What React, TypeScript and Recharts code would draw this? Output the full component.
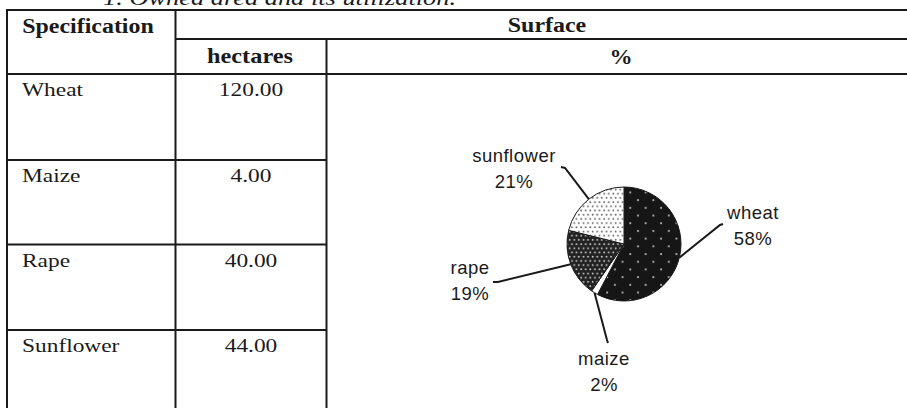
import React from "react";
import { Cell, Pie, PieChart } from "recharts";

// table content
const title = "1. Owned area and its utilization.";
const categories = ["Wheat", "Maize", "Rape", "Sunflower"];
const hectares = [120, 4, 40, 44];
const headSpec = "Specification";
const headSurface = "Surface";
const headHa = "hectares";
const headPct = "%";

const patternIds = ["pWheat", "pMaize", "pRape", "pSunflower"];

// hand placed leader lines / label text, offsets from pie centre
const labelLayout: Record<string, { elbow: number[]; hook: number[]; text: number[] }> = {
  Wheat: { elbow: [96, -19], hook: [99, -20], text: [129, -25] },
  Maize: { elbow: [-17, 96], hook: [-16, 99], text: [-20, 121] },
  Rape: { elbow: [-126, 38], hook: [-131, 38], text: [-154, 30] },
  Sunflower: { elbow: [-59, -76], hook: [-63, -77], text: [-110, -82] },
};

const INK = "#1a1a1a";
const SERIF = "'Liberation Serif', 'Times New Roman', serif";
const SANS = "'Liberation Sans', Arial, sans-serif";

const rowTops = [74, 160, 244.5, 330];

function renderLabel(props: any) {
  const { cx, cy, midAngle, outerRadius, percent, name } = props;
  const lay = labelLayout[name];
  if (!lay) return null;
  const rad = Math.PI / 180;
  const sx = cx + outerRadius * Math.cos(-midAngle * rad);
  const sy = cy + outerRadius * Math.sin(-midAngle * rad);
  const pts = [
    [sx, sy],
    [cx + lay.elbow[0], cy + lay.elbow[1]],
    [cx + lay.hook[0], cy + lay.hook[1]],
  ]
    .map((p) => p.join(","))
    .join(" ");
  const tx = cx + lay.text[0];
  const ty = cy + lay.text[1];
  return (
    <g>
      <polyline points={pts} fill="none" stroke={INK} strokeWidth={2} />
      <text
        x={tx}
        y={ty}
        textAnchor="middle"
        fontFamily={SANS}
        fontSize={18.5}
        letterSpacing={0.5}
        fill={INK}
      >
        <tspan x={tx} dy={0}>{String(name).toLowerCase()}</tspan>
        <tspan x={tx} dy={26}>{`${Math.round(percent * 100)}%`}</tspan>
      </text>
    </g>
  );
}

function Txt({ x, y, children, bold, italic, anchor = "start", size = 18, sx = 1.3 }: any) {
  return (
    <text
      transform={`translate(${x},${y}) scale(${sx},1)`}
      textAnchor={anchor}
      fontFamily={SERIF}
      fontSize={size}
      fontWeight={bold ? 700 : 400}
      fontStyle={italic ? "italic" : "normal"}
      fill={INK}
    >
      {children}
    </text>
  );
}

export default function App() {
  const pieData = categories.map((c, i) => ({ name: c, value: hectares[i] }));

  return (
    <div
      style={{
        position: "absolute",
        left: 0,
        top: 0,
        width: 907,
        height: 408,
        overflow: "hidden",
        background: "#ffffff",
      }}
    >
      <svg width={907} height={408} style={{ position: "absolute", left: 0, top: 0 }}>
        <Txt x={103} y={5} italic size={20} sx={1.32}>{title}</Txt>

        {/* grid lines */}
        <rect x={6} y={9} width={901} height={2} fill={INK} />
        <rect x={6} y={9} width={2} height={399} fill={INK} />
        <rect x={174.5} y={9} width={2} height={399} fill={INK} />
        <rect x={175} y={38} width={732} height={2} fill={INK} />
        <rect x={325.5} y={38} width={2} height={370} fill={INK} />
        <rect x={6} y={73} width={901} height={2} fill={INK} />
        {rowTops.slice(1).map((t) => (
          <rect key={t} x={6} y={t - 1} width={321} height={2} fill={INK} />
        ))}

        {/* header */}
        <Txt x={88} y={33} bold size={21} sx={1.14} anchor="middle">{headSpec}</Txt>
        <Txt x={547} y={32} bold size={21} sx={1.14} anchor="middle">{headSurface}</Txt>
        <Txt x={250} y={63} bold size={21} sx={1.16} anchor="middle">{headHa}</Txt>
        <Txt x={621} y={64} bold size={21} sx={1.1} anchor="middle">{headPct}</Txt>

        {/* body rows */}
        {categories.map((c, i) => (
          <g key={c}>
            <Txt x={22} y={rowTops[i] + 22}>{c}</Txt>
            <Txt x={251} y={rowTops[i] + 22} anchor="middle">{hectares[i].toFixed(2)}</Txt>
          </g>
        ))}
      </svg>

      <div style={{ position: "absolute", left: 327, top: 74 }}>
        <PieChart width={580} height={334} margin={{ top: 0, right: 0, bottom: 0, left: 0 }}>
          <defs>
            <pattern id="pWheat" width={15.4} height={15.4} patternUnits="userSpaceOnUse">
              <rect width={15.4} height={15.4} fill="#161616" />
              <circle cx={3} cy={3} r={1.05} fill="#bdbdbd" />
              <circle cx={10.7} cy={10.7} r={1.05} fill="#bdbdbd" />
            </pattern>
            <pattern id="pMaize" width={4} height={4} patternUnits="userSpaceOnUse">
              <rect width={4} height={4} fill="#ffffff" />
            </pattern>
            <pattern id="pRape" width={4.6} height={8.4} patternUnits="userSpaceOnUse">
              <rect width={4.6} height={8.4} fill="#222222" />
              <circle cx={1.15} cy={2.1} r={0.95} fill="#cfcfcf" />
              <circle cx={3.45} cy={6.3} r={0.95} fill="#cfcfcf" />
            </pattern>
            <pattern id="pSunflower" width={4.6} height={8.4} patternUnits="userSpaceOnUse">
              <rect width={4.6} height={8.4} fill="#ffffff" />
              <circle cx={1.15} cy={2.1} r={0.95} fill="#5e5e5e" />
              <circle cx={3.45} cy={6.3} r={0.95} fill="#5e5e5e" />
            </pattern>
          </defs>
          <Pie
            data={pieData}
            dataKey="value"
            nameKey="name"
            cx={297}
            cy={170}
            outerRadius={57}
            startAngle={90}
            endAngle={-270}
            stroke={INK}
            strokeWidth={1}
            label={renderLabel}
            labelLine={false}
            isAnimationActive={false}
          >
            {pieData.map((d, i) => (
              <Cell key={d.name} fill={`url(#${patternIds[i]})`} />
            ))}
          </Pie>
        </PieChart>
      </div>
    </div>
  );
}
